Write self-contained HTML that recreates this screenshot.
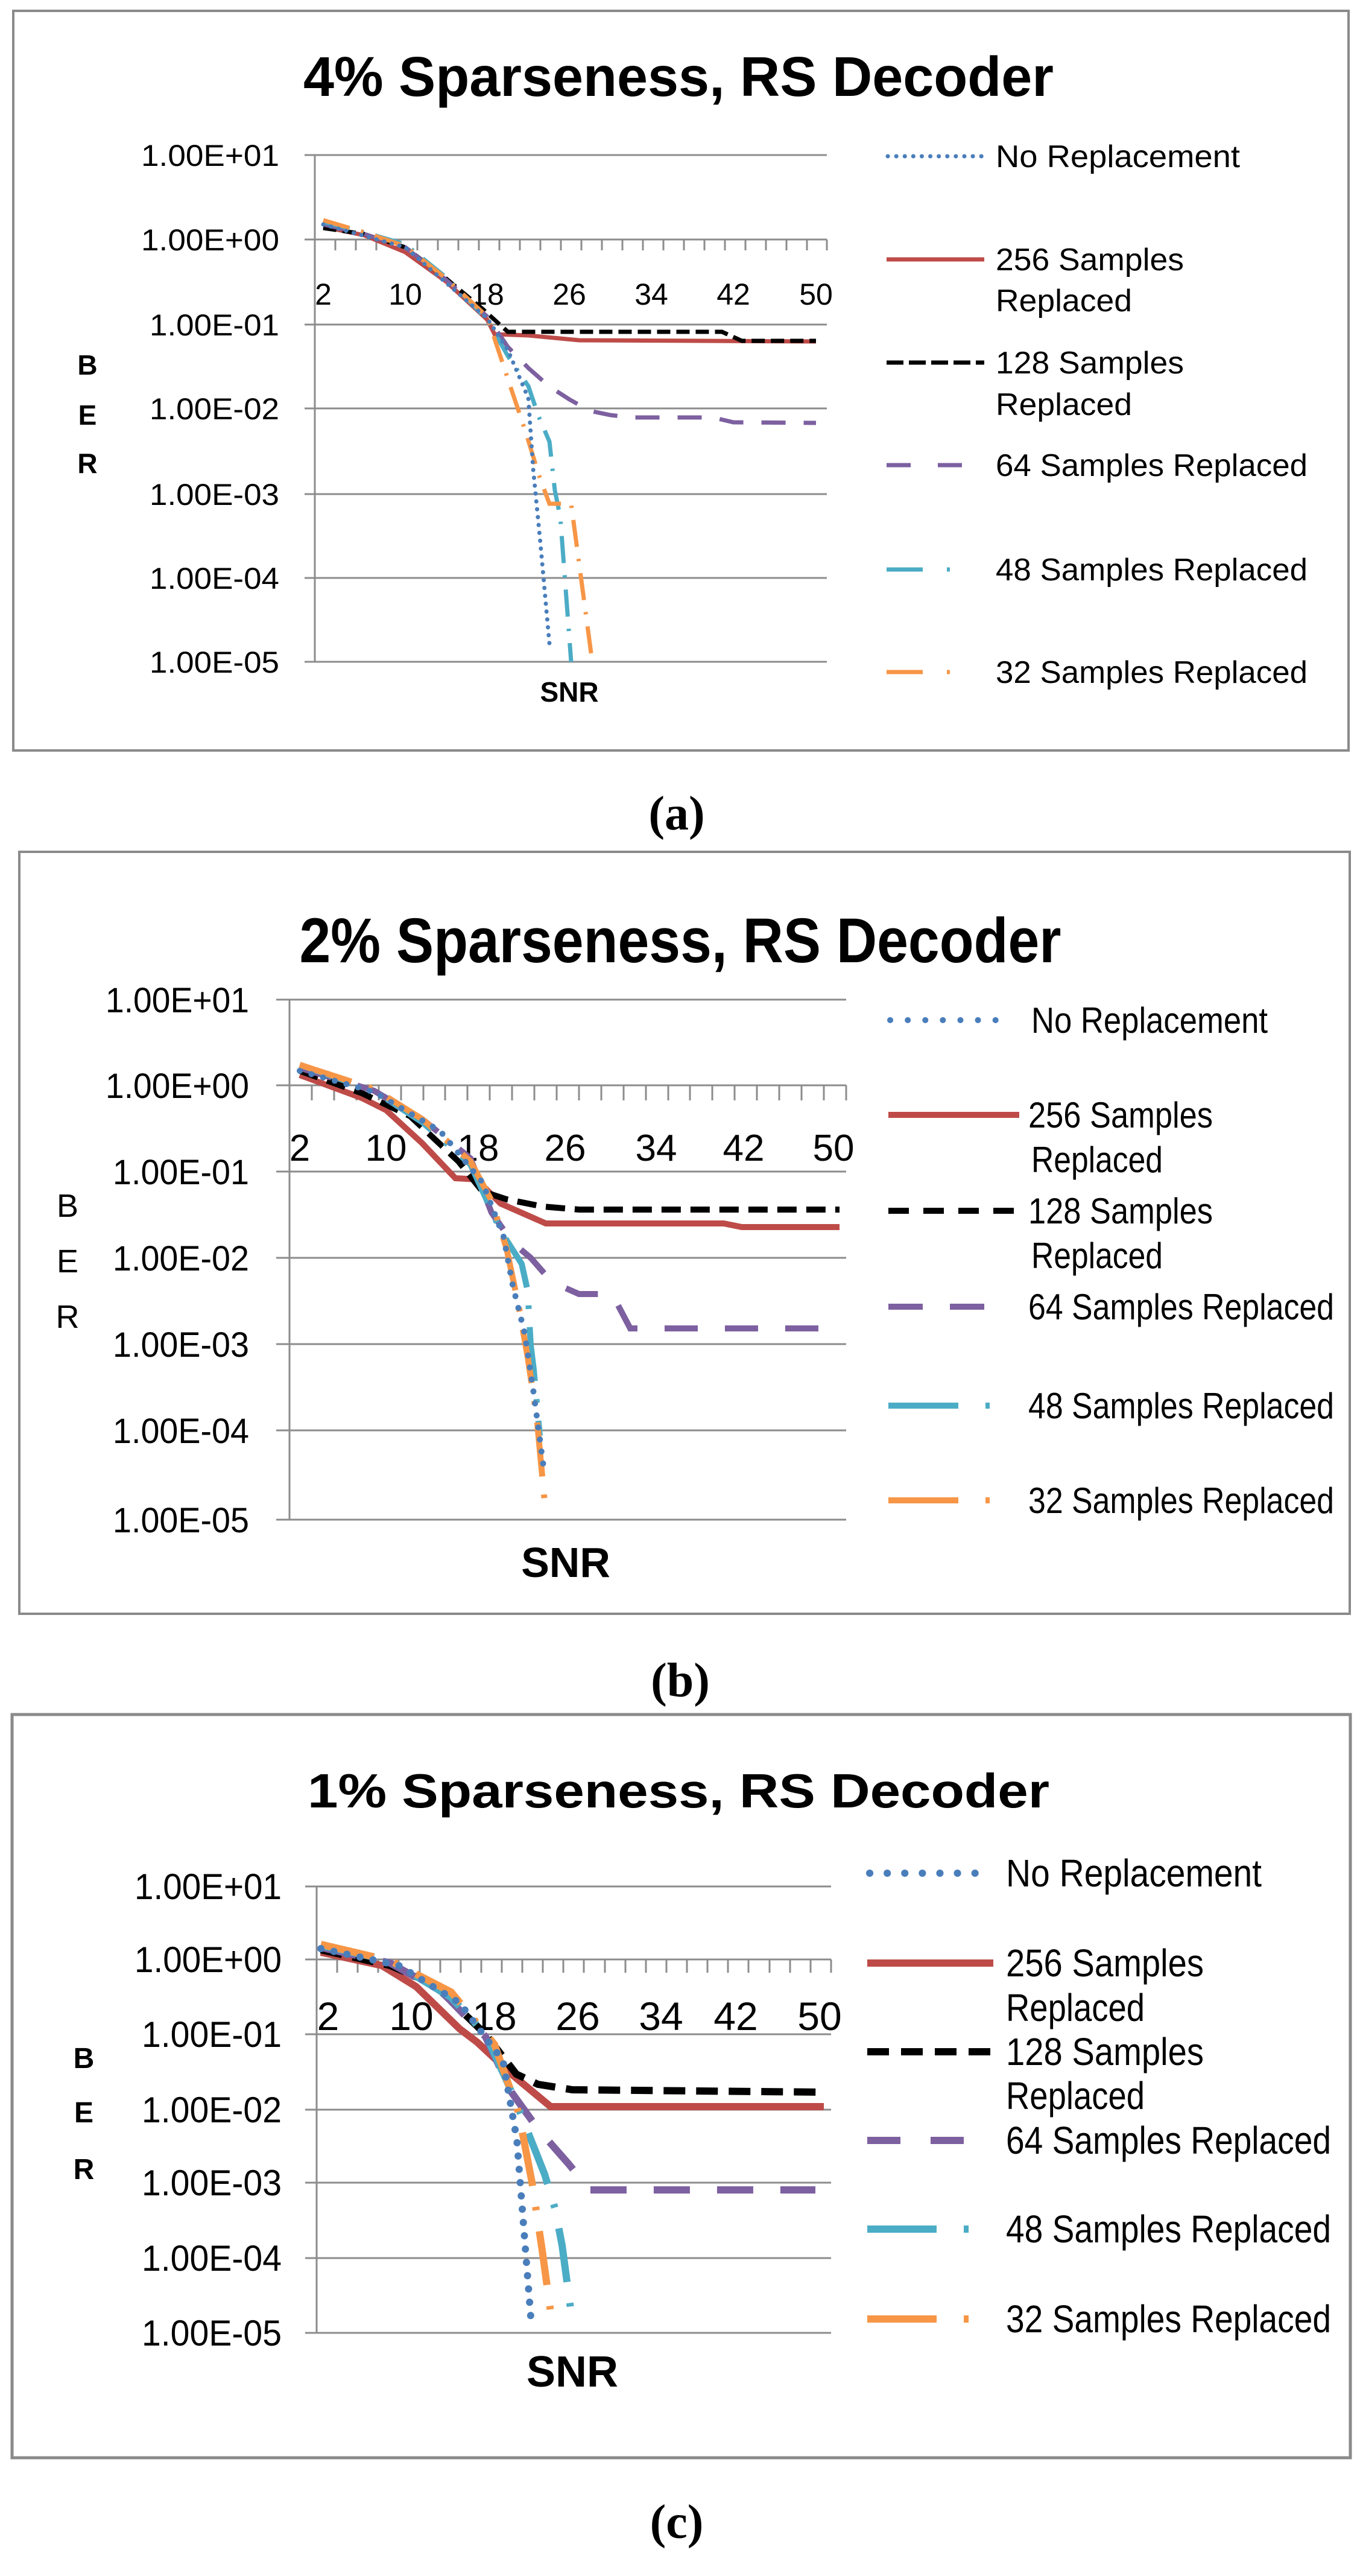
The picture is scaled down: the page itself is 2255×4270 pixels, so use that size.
<!DOCTYPE html>
<html><head><meta charset="utf-8"><style>
html,body{margin:0;padding:0;background:#fff}
svg{display:block}
text{font-family:"Liberation Sans",sans-serif;fill:#000}
.t{font-weight:bold}
.cap{font-family:"Liberation Serif",serif;font-weight:bold}
</style></head><body>
<svg width="2255" height="4270" viewBox="0 0 2255 4270" xmlns="http://www.w3.org/2000/svg">
<rect width="2255" height="4270" fill="#fff"/>

<!-- ============ (a) ============ -->
<rect x="22" y="18" width="2214" height="1226" fill="none" stroke="#8a8a8a" stroke-width="4"/>
<text class="t" x="1125" y="159" font-size="93" text-anchor="middle" textLength="1244" lengthAdjust="spacingAndGlyphs">4% Sparseness, RS Decoder</text>
<g stroke="#8c8c8c" stroke-width="3">
<line x1="505" y1="257" x2="1371" y2="257"/><line x1="505" y1="397" x2="1371" y2="397"/>
<line x1="505" y1="538" x2="1371" y2="538"/><line x1="505" y1="677" x2="1371" y2="677"/>
<line x1="505" y1="819" x2="1371" y2="819"/><line x1="505" y1="958" x2="1371" y2="958"/>
<line x1="505" y1="1097" x2="1371" y2="1097"/><line x1="522" y1="257" x2="522" y2="1097"/>
<path d="M522 397v18M556 397v18M590 397v18M624 397v18M658 397v18M692 397v18M726 397v18M760 397v18M794 397v18M828 397v18M862 397v18M896 397v18M930 397v18M964 397v18M998 397v18M1032 397v18M1066 397v18M1100 397v18M1134 397v18M1168 397v18M1202 397v18M1236 397v18M1270 397v18M1304 397v18M1338 397v18M1371 397v18"/>
</g>
<g font-size="50" text-anchor="end">
<text x="463" y="275" textLength="229" lengthAdjust="spacingAndGlyphs">1.00E+01</text>
<text x="463" y="415" textLength="229" lengthAdjust="spacingAndGlyphs">1.00E+00</text>
<text x="463" y="556" textLength="215" lengthAdjust="spacingAndGlyphs">1.00E-01</text>
<text x="463" y="695" textLength="215" lengthAdjust="spacingAndGlyphs">1.00E-02</text>
<text x="463" y="837" textLength="215" lengthAdjust="spacingAndGlyphs">1.00E-03</text>
<text x="463" y="976" textLength="215" lengthAdjust="spacingAndGlyphs">1.00E-04</text>
<text x="463" y="1115" textLength="215" lengthAdjust="spacingAndGlyphs">1.00E-05</text>
</g>
<g font-size="50" text-anchor="middle">
<text x="536" y="505">2</text><text x="672" y="505">10</text><text x="808" y="505">18</text><text x="944" y="505">26</text><text x="1080" y="505">34</text><text x="1216" y="505">42</text><text x="1353" y="505">50</text>
</g>
<g class="t" font-size="46" text-anchor="middle">
<text x="145" y="621">B</text><text x="145" y="704">E</text><text x="145" y="784">R</text>
<text x="944" y="1163">SNR</text>
</g>
<g fill="none" stroke-width="7">
<polyline stroke="#be4b48" points="536,376 604,390 672,418 740,467 808,530 820,554 876,556 960,564 1353,566"/>
<polyline stroke="#000" stroke-dasharray="22 10" points="536,378 604,388 672,410 740,462 800,512 842,550 1197,550 1230,565 1353,565"/>
<polyline stroke="#7d60a0" stroke-dasharray="40 30" points="536,372 604,388 672,410 740,464 808,525 842,575 876,610 910,640 944,662 978,681 1012,688 1046,692 1182,692 1216,700 1353,701"/>
<polyline stroke="#4bacc6" stroke-dasharray="45 20 4 20" points="536,368 604,385 672,405 740,460 808,530 842,590 876,640 893,690 911,732 920,813 929,857 947,1097"/>
<polyline stroke="#f79646" stroke-dasharray="45 20 4 20" points="536,365 604,385 672,408 740,462 808,525 844,634 871,714 893,786 911,835 947,835 982,1097"/>
<polyline stroke="#4a7ebb" stroke-dasharray="0.1 13" stroke-linecap="round" points="536,372 672,410 808,528 842,580 876,660 884,777 896,900 911,1067"/>
</g>
<g fill="none" stroke-width="7">
<line x1="1472" y1="259" x2="1632" y2="259" stroke="#4a7ebb" stroke-dasharray="0.1 14" stroke-linecap="round"/>
<line x1="1470" y1="430" x2="1632" y2="430" stroke="#be4b48"/>
<line x1="1470" y1="601" x2="1632" y2="601" stroke="#000" stroke-dasharray="28 9"/>
<line x1="1470" y1="771" x2="1600" y2="771" stroke="#7d60a0" stroke-dasharray="40 45"/>
<line x1="1470" y1="944" x2="1600" y2="944" stroke="#4bacc6" stroke-dasharray="60 40 5 40"/>
<line x1="1470" y1="1114" x2="1600" y2="1114" stroke="#f79646" stroke-dasharray="60 40 5 40"/>
</g>
<g font-size="52">
<text x="1651" y="277" textLength="405" lengthAdjust="spacingAndGlyphs">No Replacement</text>
<text x="1651" y="448" textLength="312" lengthAdjust="spacingAndGlyphs">256 Samples</text>
<text x="1651" y="516" textLength="226" lengthAdjust="spacingAndGlyphs">Replaced</text>
<text x="1651" y="619" textLength="312" lengthAdjust="spacingAndGlyphs">128 Samples</text>
<text x="1651" y="688" textLength="226" lengthAdjust="spacingAndGlyphs">Replaced</text>
<text x="1651" y="789" textLength="517" lengthAdjust="spacingAndGlyphs">64 Samples Replaced</text>
<text x="1651" y="962" textLength="517" lengthAdjust="spacingAndGlyphs">48 Samples Replaced</text>
<text x="1651" y="1132" textLength="517" lengthAdjust="spacingAndGlyphs">32 Samples Replaced</text>
</g>
<text class="cap" x="1122" y="1375" font-size="80" text-anchor="middle">(<tspan>a</tspan>)</text>

<!-- ============ (b) ============ -->
<rect x="32" y="1412" width="2206" height="1263" fill="none" stroke="#8a8a8a" stroke-width="4"/>
<text class="t" x="1128" y="1595" font-size="105" text-anchor="middle" textLength="1263" lengthAdjust="spacingAndGlyphs">2% Sparseness, RS Decoder</text>
<g stroke="#8c8c8c" stroke-width="3">
<line x1="458" y1="1657" x2="1403" y2="1657"/><line x1="458" y1="1799" x2="1403" y2="1799"/>
<line x1="458" y1="1942" x2="1403" y2="1942"/><line x1="458" y1="2085" x2="1403" y2="2085"/>
<line x1="458" y1="2228" x2="1403" y2="2228"/><line x1="458" y1="2371" x2="1403" y2="2371"/>
<line x1="458" y1="2519" x2="1403" y2="2519"/><line x1="480" y1="1657" x2="480" y2="2519"/>
<path d="M480 1799v25M517 1799v25M554 1799v25M591 1799v25M628 1799v25M665 1799v25M702 1799v25M738 1799v25M775 1799v25M812 1799v25M849 1799v25M886 1799v25M923 1799v25M960 1799v25M997 1799v25M1034 1799v25M1071 1799v25M1108 1799v25M1144 1799v25M1181 1799v25M1218 1799v25M1255 1799v25M1292 1799v25M1329 1799v25M1366 1799v25M1403 1799v25"/>
</g>
<g font-size="58" text-anchor="end">
<text x="413" y="1678" textLength="238" lengthAdjust="spacingAndGlyphs">1.00E+01</text>
<text x="413" y="1820" textLength="238" lengthAdjust="spacingAndGlyphs">1.00E+00</text>
<text x="413" y="1963" textLength="226" lengthAdjust="spacingAndGlyphs">1.00E-01</text>
<text x="413" y="2106" textLength="226" lengthAdjust="spacingAndGlyphs">1.00E-02</text>
<text x="413" y="2249" textLength="226" lengthAdjust="spacingAndGlyphs">1.00E-03</text>
<text x="413" y="2392" textLength="226" lengthAdjust="spacingAndGlyphs">1.00E-04</text>
<text x="413" y="2540" textLength="226" lengthAdjust="spacingAndGlyphs">1.00E-05</text>
</g>
<g font-size="62" text-anchor="middle">
<text x="497" y="1924">2</text><text x="640" y="1924">10</text><text x="793" y="1924">18</text><text x="937" y="1924">26</text><text x="1088" y="1924">34</text><text x="1233" y="1924">42</text><text x="1382" y="1924">50</text>
</g>
<g font-size="54" text-anchor="middle">
<text x="112" y="2017">B</text><text x="112" y="2109">E</text><text x="112" y="2201">R</text>
</g>
<text class="t" x="938" y="2614" font-size="70" text-anchor="middle">SNR</text>
<g fill="none" stroke-width="10">
<polyline stroke="#be4b48" points="497,1782 600,1820 640,1840 700,1895 755,1953 790,1955 830,1995 905,2028 1200,2028 1230,2034 1392,2034"/>
<polyline stroke="#000" stroke-dasharray="32 16" points="497,1775 600,1812 680,1850 760,1925 800,1975 840,1988 900,2000 960,2005 1392,2005"/>
<polyline stroke="#7d60a0" stroke-dasharray="55 45" points="497,1770 620,1808 700,1855 780,1920 815,2010 850,2060 880,2085 915,2125 960,2145 1015,2145 1045,2202 1392,2202"/>
<polyline stroke="#4bacc6" stroke-dasharray="90 30 6 30" points="497,1765 620,1808 700,1860 780,1930 830,2040 865,2095 875,2140 880,2230 885,2270 895,2380"/>
<polyline stroke="#f79646" stroke-dasharray="90 30 6 30" points="497,1765 620,1805 700,1855 780,1925 815,1990 840,2070 860,2165 875,2250 890,2350 905,2510"/>
<polyline stroke="#4a7ebb" stroke-dasharray="0.1 20" stroke-linecap="round" points="497,1775 620,1810 730,1875 800,1960 835,2050 850,2130 870,2210 885,2310 903,2445"/>
</g>
<g fill="none" stroke-width="10">
<line x1="1476" y1="1691" x2="1670" y2="1691" stroke="#4a7ebb" stroke-dasharray="0.1 29" stroke-linecap="round"/>
<line x1="1473" y1="1848" x2="1690" y2="1848" stroke="#be4b48"/>
<line x1="1473" y1="2007" x2="1690" y2="2007" stroke="#000" stroke-dasharray="34 24"/>
<line x1="1473" y1="2166" x2="1632" y2="2166" stroke="#7d60a0" stroke-dasharray="57 45"/>
<line x1="1473" y1="2330" x2="1650" y2="2330" stroke="#4bacc6" stroke-dasharray="116 45 7 50"/>
<line x1="1473" y1="2487" x2="1650" y2="2487" stroke="#f79646" stroke-dasharray="116 45 7 50"/>
</g>
<g font-size="60">
<text x="1710" y="1712" textLength="392" lengthAdjust="spacingAndGlyphs">No Replacement</text>
<text x="1705" y="1869" textLength="306" lengthAdjust="spacingAndGlyphs">256 Samples</text>
<text x="1710" y="1943" textLength="218" lengthAdjust="spacingAndGlyphs">Replaced</text>
<text x="1705" y="2028" textLength="306" lengthAdjust="spacingAndGlyphs">128 Samples</text>
<text x="1710" y="2102" textLength="218" lengthAdjust="spacingAndGlyphs">Replaced</text>
<text x="1705" y="2187" textLength="507" lengthAdjust="spacingAndGlyphs">64 Samples Replaced</text>
<text x="1705" y="2351" textLength="507" lengthAdjust="spacingAndGlyphs">48 Samples Replaced</text>
<text x="1705" y="2508" textLength="507" lengthAdjust="spacingAndGlyphs">32 Samples Replaced</text>
</g>
<text class="cap" x="1128" y="2812" font-size="80" text-anchor="middle">(b)</text>

<!-- ============ (c) ============ -->
<rect x="20" y="2842" width="2219" height="1232" fill="none" stroke="#8a8a8a" stroke-width="5"/>
<text class="t" x="1125" y="2996" font-size="80" text-anchor="middle" textLength="1230" lengthAdjust="spacingAndGlyphs">1% Sparseness, RS Decoder</text>
<g stroke="#8c8c8c" stroke-width="3">
<line x1="506" y1="3127" x2="1378" y2="3127"/><line x1="506" y1="3248" x2="1378" y2="3248"/>
<line x1="506" y1="3372" x2="1378" y2="3372"/><line x1="506" y1="3497" x2="1378" y2="3497"/>
<line x1="506" y1="3618" x2="1378" y2="3618"/><line x1="506" y1="3743" x2="1378" y2="3743"/>
<line x1="506" y1="3867" x2="1378" y2="3867"/><line x1="525" y1="3127" x2="525" y2="3867"/>
<path d="M525 3248v22M559 3248v22M593 3248v22M627 3248v22M661 3248v22M696 3248v22M730 3248v22M764 3248v22M798 3248v22M832 3248v22M866 3248v22M900 3248v22M934 3248v22M968 3248v22M1003 3248v22M1037 3248v22M1071 3248v22M1105 3248v22M1139 3248v22M1173 3248v22M1207 3248v22M1241 3248v22M1276 3248v22M1310 3248v22M1344 3248v22M1378 3248v22"/>
</g>
<g font-size="60" text-anchor="end">
<text x="467" y="3148" textLength="244" lengthAdjust="spacingAndGlyphs">1.00E+01</text>
<text x="467" y="3269" textLength="244" lengthAdjust="spacingAndGlyphs">1.00E+00</text>
<text x="467" y="3393" textLength="232" lengthAdjust="spacingAndGlyphs">1.00E-01</text>
<text x="467" y="3518" textLength="232" lengthAdjust="spacingAndGlyphs">1.00E-02</text>
<text x="467" y="3639" textLength="232" lengthAdjust="spacingAndGlyphs">1.00E-03</text>
<text x="467" y="3764" textLength="232" lengthAdjust="spacingAndGlyphs">1.00E-04</text>
<text x="467" y="3888" textLength="232" lengthAdjust="spacingAndGlyphs">1.00E-05</text>
</g>
<g font-size="66" text-anchor="middle">
<text x="544" y="3365">2</text><text x="682" y="3365">10</text><text x="820" y="3365">18</text><text x="958" y="3365">26</text><text x="1096" y="3365">34</text><text x="1220" y="3365">42</text><text x="1359" y="3365">50</text>
</g>
<g class="t" font-size="48" text-anchor="middle">
<text x="139" y="3428">B</text><text x="139" y="3518">E</text><text x="139" y="3612">R</text>
</g>
<text class="t" x="949" y="3956" font-size="72" text-anchor="middle">SNR</text>
<g fill="none" stroke-width="12">
<polyline stroke="#be4b48" points="532,3236 633,3258 690,3293 762,3363 791,3385 848,3438 913,3492 1366,3492"/>
<polyline stroke="#000" stroke-dasharray="36 18" points="532,3232 647,3258 719,3289 805,3372 856,3438 892,3455 949,3464 1366,3468"/>
<polyline stroke="#7d60a0" stroke-dasharray="60 45" points="532,3228 647,3254 733,3302 805,3376 848,3468 892,3529 942,3586 978,3630 1352,3630"/>
<polyline stroke="#4bacc6" stroke-dasharray="90 35 6 35" points="532,3225 647,3250 748,3311 805,3372 841,3451 863,3503 903,3604 920,3660 932,3722 946,3826"/>
<polyline stroke="#f79646" stroke-dasharray="90 35 6 35" points="532,3223 647,3250 748,3302 820,3389 860,3503 882,3617 899,3730 915,3847"/>
<polyline stroke="#4a7ebb" stroke-dasharray="0.1 22" stroke-linecap="round" points="532,3230 661,3258 762,3320 834,3416 857,3547 880,3840"/>
</g>
<g fill="none" stroke-width="12">
<line x1="1442" y1="3105" x2="1640" y2="3105" stroke="#4a7ebb" stroke-dasharray="0.1 29" stroke-linecap="round"/>
<line x1="1438" y1="3254" x2="1647" y2="3254" stroke="#be4b48"/>
<line x1="1438" y1="3401" x2="1647" y2="3401" stroke="#000" stroke-dasharray="36 20"/>
<line x1="1438" y1="3548" x2="1600" y2="3548" stroke="#7d60a0" stroke-dasharray="55 50"/>
<line x1="1438" y1="3695" x2="1620" y2="3695" stroke="#4bacc6" stroke-dasharray="115 45 8 60"/>
<line x1="1438" y1="3844" x2="1620" y2="3844" stroke="#f79646" stroke-dasharray="115 45 8 60"/>
</g>
<g font-size="64">
<text x="1668" y="3127" textLength="424" lengthAdjust="spacingAndGlyphs">No Replacement</text>
<text x="1668" y="3276" textLength="328" lengthAdjust="spacingAndGlyphs">256 Samples</text>
<text x="1668" y="3350" textLength="230" lengthAdjust="spacingAndGlyphs">Replaced</text>
<text x="1668" y="3423" textLength="328" lengthAdjust="spacingAndGlyphs">128 Samples</text>
<text x="1668" y="3496" textLength="230" lengthAdjust="spacingAndGlyphs">Replaced</text>
<text x="1668" y="3570" textLength="539" lengthAdjust="spacingAndGlyphs">64 Samples Replaced</text>
<text x="1668" y="3717" textLength="539" lengthAdjust="spacingAndGlyphs">48 Samples Replaced</text>
<text x="1668" y="3866" textLength="539" lengthAdjust="spacingAndGlyphs">32 Samples Replaced</text>
</g>
<text class="cap" x="1122" y="4207" font-size="80" text-anchor="middle">(c)</text>
</svg>
</body></html>
